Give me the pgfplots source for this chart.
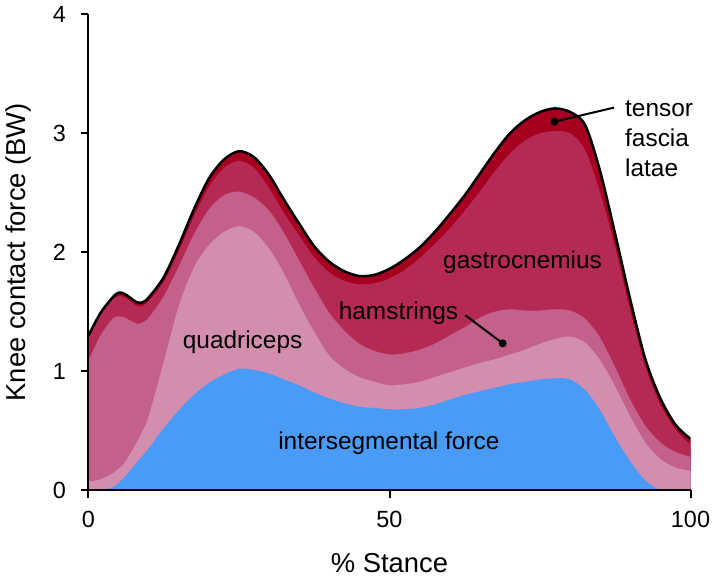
\documentclass[border=0pt]{standalone}
\usepackage{fontspec}
\setmainfont{Liberation Sans}
\usepackage{pgfplots}
\usepackage{pgfplotstable}
\pgfplotsset{compat=1.18}

\definecolor{cblue}{RGB}{74,155,246}
\definecolor{cquad}{RGB}{211,141,175}
\definecolor{cham}{RGB}{195,97,139}
\definecolor{cgas}{RGB}{181,42,85}
\definecolor{ctfl}{RGB}{165,0,32}

% cumulative boundaries (BW): intersegmental, +quadriceps, +hamstrings, +gastrocnemius, +tensor fascia latae
\pgfplotstableread{
x     blue  quad  ham   gas   top
0     0.00  0.07  1.09  1.28  1.30
2     0.00  0.09  1.30  1.47  1.49
4     0.02  0.14  1.44  1.60  1.62
5     0.06  0.18  1.46  1.63  1.66
6     0.11  0.23  1.45  1.62  1.65
8     0.23  0.40  1.40  1.55  1.58
9     0.29  0.50  1.41  1.55  1.58
10    0.35  0.62  1.45  1.59  1.62
12.5  0.52  1.08  1.63  1.75  1.79
15    0.67  1.55  1.88  2.01  2.06
17.5  0.80  1.87  2.15  2.30  2.36
20    0.90  2.06  2.36  2.55  2.62
22.5  0.97  2.17  2.48  2.71  2.78
25    1.02  2.22  2.51  2.77  2.85
27.5  1.01  2.17  2.46  2.71  2.80
30    0.98  2.03  2.35  2.54  2.65
32.5  0.93  1.82  2.16  2.33  2.44
35    0.88  1.56  1.93  2.14  2.24
37.5  0.82  1.33  1.70  1.96  2.05
40    0.77  1.13  1.49  1.83  1.92
42.5  0.73  1.02  1.34  1.76  1.84
45    0.70  0.95  1.23  1.73  1.80
47.5  0.69  0.91  1.17  1.74  1.81
50    0.68  0.88  1.14  1.78  1.86
52.5  0.68  0.89  1.15  1.85  1.94
55    0.69  0.91  1.18  1.95  2.04
57.5  0.72  0.95  1.23  2.07  2.17
60    0.76  0.99  1.30  2.20  2.32
62.5  0.80  1.03  1.37  2.35  2.48
65    0.83  1.07  1.45  2.51  2.66
67.5  0.86  1.10  1.50  2.68  2.84
70    0.89  1.14  1.52  2.83  3.00
72.5  0.91  1.18  1.51  2.94  3.11
75    0.93  1.23  1.51  3.00  3.18
77.5  0.94  1.27  1.52  3.02  3.21
80    0.93  1.29  1.51  3.00  3.18
82.5  0.84  1.24  1.44  2.86  3.07
85    0.67  1.09  1.28  2.50  2.68
87.5  0.44  0.87  1.03  2.04  2.15
90    0.24  0.62  0.76  1.51  1.60
92.5  0.08  0.40  0.54  1.04  1.10
95    0.00  0.26  0.40  0.72  0.77
97.5  0.00  0.19  0.32  0.51  0.55
100   0.00  0.16  0.28  0.38  0.43
}\datatable

\begin{document}
\begin{tikzpicture}
\useasboundingbox (-88.5bp,-92bp) rectangle (623.5bp,490bp);
\begin{axis}[
  scale only axis,
  width=602bp, height=475.5bp,
  at={(0,0)}, anchor=south west,
  xmin=0, xmax=100, ymin=0, ymax=4,
  axis lines=left,
  axis line style={-, line width=2bp, black},
  axis on top=true,
  xtick={0,50,100}, ytick={0,1,2,3,4},
  tick align=outside,
  major tick length=8bp,
  tick style={black, line width=2bp},
  ticklabel style={font=\fontsize{23.5}{28}\selectfont},
  xticklabel style={yshift=-10bp},
  yticklabel style={xshift=-11bp},
  /pgf/number format/assume math mode=true,
  xlabel={\% Stance},
  ylabel={Knee contact force (BW)},
  label style={font=\fontsize{27.5}{32}\selectfont},
  xlabel style={at={(axis description cs:0.5,-0.1535)}, anchor=center},
  ylabel style={at={(axis description cs:-0.1163,0.5)}, anchor=center},
  clip=true,
]
\addplot[draw=none, fill=ctfl, smooth] table[x=x, y=top] {\datatable} \closedcycle;
\addplot[draw=none, fill=cgas, smooth] table[x=x, y=gas] {\datatable} \closedcycle;
\addplot[draw=none, fill=cham, smooth] table[x=x, y=ham] {\datatable} \closedcycle;
\addplot[draw=none, fill=cquad, smooth] table[x=x, y=quad] {\datatable} \closedcycle;
\addplot[draw=none, fill=cblue, smooth] table[x=x, y=blue] {\datatable} \closedcycle;
\addplot[draw=black, line width=2.5bp, smooth, no marks] table[x=x, y=top] {\datatable};

\node[font=\fontsize{24.5}{29}\selectfont, anchor=center] at (axis cs:25.6,1.24) {quadriceps};
\node[font=\fontsize{24.5}{29}\selectfont, anchor=center] at (axis cs:51.5,1.49) {hamstrings};
\node[font=\fontsize{24.5}{29}\selectfont, anchor=center] at (axis cs:72.1,1.92) {gastrocnemius};
\node[font=\fontsize{24.5}{29}\selectfont, anchor=center] at (axis cs:49.9,0.395) {intersegmental force};
\draw[line width=2bp] (axis cs:62.6,1.47) -- (axis cs:68.8,1.234);
\fill (axis cs:68.8,1.234) circle[radius=4bp];
\draw[line width=2bp] (axis cs:87.3,3.217) -- (axis cs:77.4,3.098);
\fill (axis cs:77.4,3.098) circle[radius=4bp];
\end{axis}
\begin{scope}[font=\fontsize{24.5}{29}\selectfont]
\node[anchor=base west, inner sep=0pt] at (536.5bp,373.5bp) {tensor};
\node[anchor=base west, inner sep=0pt] at (536.5bp,343.3bp) {fascia};
\node[anchor=base west, inner sep=0pt] at (536.5bp,313.3bp) {latae};
\end{scope}
\end{tikzpicture}
\end{document}
